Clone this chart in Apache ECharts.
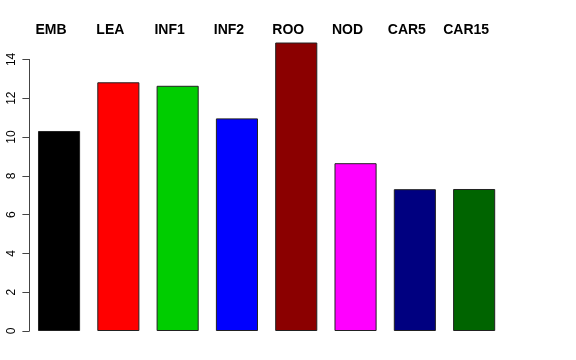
<!DOCTYPE html>
<html><head><meta charset="utf-8">
<script src="https://cdn.jsdelivr.net/npm/echarts@6/dist/echarts.min.js"></script>
<style>html,body{margin:0;padding:0;background:#fff}#c{width:576px;height:360px}</style>
</head><body><div id="c"></div>
<script>
var categories = ["EMB","LEA","INF1","INF2","ROO","NOD","CAR5","CAR15"];
var values = [10.31, 12.82, 12.64, 10.96, 14.87, 8.65, 7.31, 7.32];
var colors = ["#000000","#FF0000","#00CD00","#0000FF","#8B0000","#FF00FF","#000080","#006400"];
var yTicks = [0,2,4,6,8,10,12,14];

var chart = echarts.init(document.getElementById('c'), null, {renderer:'canvas'});
chart.setOption({
  animation:false,
  backgroundColor:'#fff',
  grid:{left:29.4, right:72.2, top:59.4, bottom:29},
  xAxis:{type:'category', data:categories, position:'top',
    axisLine:{show:false}, axisTick:{show:false},
    axisLabel:{interval:0, hideOverlap:false, fontFamily:'Liberation Sans, Arial, sans-serif', fontWeight:'bold', fontSize:14, color:'#000',
      margin:22, padding:[0,16,0,0]}},
  yAxis:{type:'value', min:0, max:14, interval:2,
    splitLine:{show:false},
    axisLine:{show:true, lineStyle:{color:'#444', width:1}},
    axisTick:{show:true, length:7, lineStyle:{color:'#444'}},
    axisLabel:{rotate:90, fontFamily:'Liberation Sans, Arial, sans-serif', fontSize:12, color:'#000', margin:12,
      formatter:function(v){return yTicks.indexOf(v)>=0?String(v):'';}}},
  series:[{type:'bar', clip:false, barCategoryGap:'29%',
    data: values.map(function(v,i){return {value:v, itemStyle:{color:colors[i]}};}),
    itemStyle:{borderColor:'#222', borderWidth:1}}]
});
</script></body></html>
